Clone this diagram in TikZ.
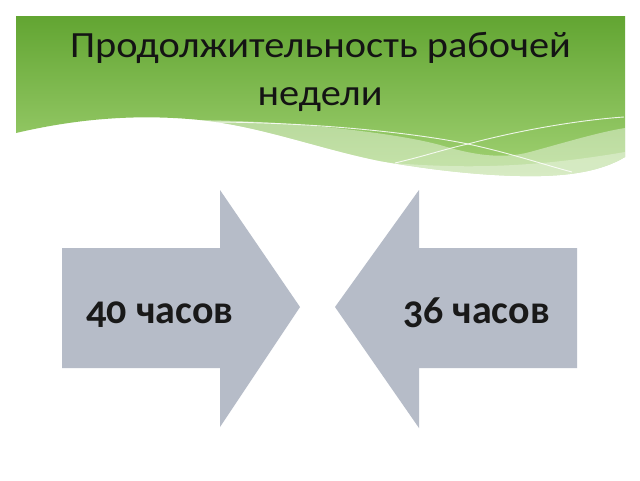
\documentclass[tikz,border=0pt]{standalone}
\usepackage{fontspec}
\setmainfont{Carlito}
\newfontfamily\numfont[Numbers=OldStyle]{Carlito}
\newfontfamily\titlefont[FakeStretch=1.09]{Carlito}
\definecolor{gtop}{HTML}{62A532}
\definecolor{gbot}{HTML}{A2D274}
\definecolor{arrowgray}{HTML}{B6BCC8}
\definecolor{titleink}{HTML}{141414}
\tikzset{
  arrowshape/.style={fill=arrowgray, draw=none},
  arrowlabel/.style={font=\numfont\bfseries\fontsize{40}{40}\selectfont, text=black!90, inner sep=0pt, anchor=base},
  titletext/.style={font=\titlefont\fontsize{37}{48}\selectfont, text=titleink, inner sep=0pt, anchor=base, align=center},
  waveline/.style={draw=white, line width=0.9pt, opacity=0.85}
}
\begin{document}
\begin{tikzpicture}[x=1pt,y=-1pt]
\useasboundingbox (0,0) rectangle (640,480);
\fill[white] (0,0) rectangle (640,480);
% green header
\begin{scope}
\clip (16,16) -- (625,16) -- (625,157)
  .. controls (600,172) and (565,177) .. (520,176)
  .. controls (470,175) and (420,168) .. (380,161)
  .. controls (320,149) and (260,126) .. (200,120)
  .. controls (140,114) and (80,118) .. (16,133) -- cycle;
\shade[top color=gtop, bottom color=gbot] (16,16) rectangle (625,178);
\fill[white, opacity=0.4] (195,120)
  .. controls (300,121) and (400,134) .. (440,145)
  .. controls (470,154) and (500,160) .. (530,152)
  .. controls (570,141) and (600,132) .. (625,128)
  -- (625,180) -- (195,180) -- cycle;
\fill[white, opacity=0.3] (380,162)
  .. controls (450,168) and (520,170) .. (625,152)
  -- (625,180) -- (380,180) -- cycle;
\end{scope}
\coordinate (la) at (205,122);
\coordinate (lx) at (468,144);
\coordinate (lae) at (572,172);
\coordinate (lb) at (395,163);
\coordinate (lbe) at (624,117);
\draw[waveline] (la) .. controls (320,122) and (420,134) .. (lx)
  .. controls (510,153) and (545,165) .. (lae);
\draw[waveline] (lb) .. controls (425,156) and (445,149) .. (lx)
  .. controls (520,130) and (580,120) .. (lbe);
% title
\node[titletext] (title1) at (320.5,57) {Продолжительность рабочей};
\node[titletext] (title2) at (320,105) {недели};
% arrows
\fill[arrowshape] (62,248) -- (220,248) -- (220,190) -- (300,307)
  -- (220,427) -- (220,368) -- (62,368) -- cycle;
\fill[arrowshape] (577,248) -- (419,248) -- (419,190) -- (335,307)
  -- (419,428) -- (419,368) -- (577,368) -- cycle;
\node[arrowlabel] (left) at (160,323) {40 часов};
\node[arrowlabel] (right) at (476.5,323) {36 часов};
\end{tikzpicture}
\end{document}
